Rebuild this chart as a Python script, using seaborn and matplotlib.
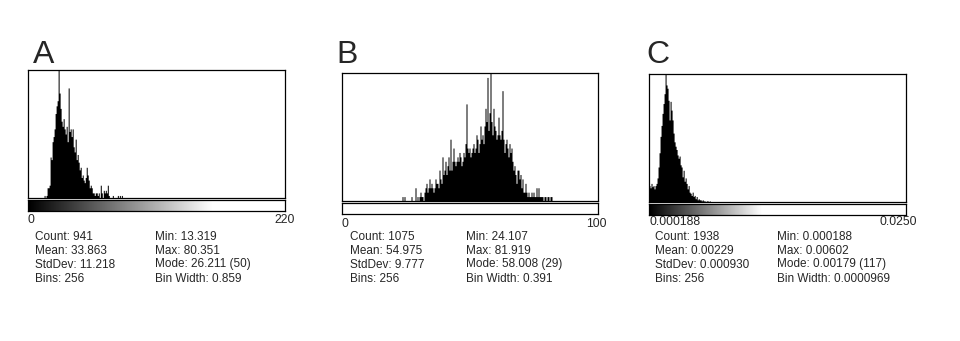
import numpy as np
import seaborn as sns
import matplotlib.pyplot as plt

sns.set_style("white")
plt.rcParams['font.family'] = ['Liberation Sans', 'DejaVu Sans']

W, H = 960, 341

# panel letters, histogram display ranges and the labels under the LUT bar
panels = ['A', 'B', 'C']
ranges = [(0, 220), (0, 100), (0.000188, 0.0250)]
range_labels = [('0', '220'), ('0', '100'), ('0.000188', '0.0250')]
first_bin = [16, 60, 0]   # index of first listed bin (256 bins per histogram)

# bin counts
counts_a = [1, 0, 1, 4, 4, 5, 16, 15, 22, 24, 27, 33, 36, 38, 50, 41, 35, 30, 28, 31,
            27, 25, 28, 22, 43, 26, 27, 24, 27, 20, 18, 23, 15, 17, 14, 11, 12, 8, 9, 7,
            6, 8, 12, 9, 7, 4, 5, 4, 2, 2, 1, 2, 2, 1, 2, 0, 5, 2, 0, 3,
            2, 3, 2, 5, 1, 0, 0, 0, 1, 0, 0, 0, 0, 1, 0, 1, 0, 1]
counts_b = [1, 0, 1, 0, 0, 0, 0, 0, 0, 1, 0, 0, 0, 3, 0, 1, 0, 1, 2, 1,
            1, 0, 2, 3, 4, 2, 3, 5, 3, 4, 3, 2, 3, 5, 4, 4, 3, 7, 5, 4,
            10, 6, 7, 9, 6, 8, 10, 7, 14, 7, 9, 12, 9, 8, 9, 10, 9, 11, 10, 8,
            9, 11, 10, 13, 22, 12, 11, 12, 10, 11, 12, 13, 11, 12, 15, 14, 11, 13, 17, 14,
            15, 13, 17, 21, 18, 28, 16, 20, 29, 18, 15, 21, 17, 16, 14, 15, 19, 15, 14, 16,
            25, 14, 11, 13, 14, 12, 10, 13, 11, 12, 9, 7, 8, 6, 4, 7, 7, 5, 6, 3,
            5, 2, 2, 4, 2, 1, 2, 1, 1, 2, 1, 2, 1, 1, 3, 1, 3, 1, 1, 1,
            1, 0, 1, 1, 0, 1, 1, 0, 1, 1]
counts_c = [15, 13, 17, 14, 15, 12, 15, 17, 22, 32, 45, 60, 70, 81, 90, 99, 117, 107, 104, 93,
            75, 92, 84, 75, 63, 55, 51, 48, 43, 40, 42, 34, 32, 23, 29, 19, 22, 17, 12, 15,
            9, 8, 6, 9, 5, 6, 3, 5, 2, 3, 2, 2, 1, 2, 1, 1, 0, 1, 1, 0, 1]
all_counts = [counts_a, counts_b, counts_c]

# LUT: fraction of the bar where the ramp reaches white (0 = all white)
lut_white = [0.72, 0.0, 0.44]

stats_left = [
    ['Count: 941', 'Mean: 33.863', 'StdDev: 11.218', 'Bins: 256'],
    ['Count: 1075', 'Mean: 54.975', 'StdDev: 9.777', 'Bins: 256'],
    ['Count: 1938', 'Mean: 0.00229', 'StdDev: 0.000930', 'Bins: 256'],
]
stats_right = [
    ['Min: 13.319', 'Max: 80.351', 'Mode: 26.211 (50)', 'Bin Width: 0.859'],
    ['Min: 24.107', 'Max: 81.919', 'Mode: 58.008 (29)', 'Bin Width: 0.391'],
    ['Min: 0.000188', 'Max: 0.00602', 'Mode: 0.00179 (117)', 'Bin Width: 0.0000969'],
]

# pixel layout of each panel
layout = [
    dict(box=(28, 70, 285, 198), bar=(28, 200, 285, 211), lab_y=220, lab_l=27, lab_r=295,
         letter=(33, 63), col1=35, col2=155),
    dict(box=(342, 73, 598, 201), bar=(342, 203, 598, 214), lab_y=224, lab_l=341, lab_r=607,
         letter=(336, 63), col1=350, col2=466),
    dict(box=(649, 74, 906, 202), bar=(649, 204, 906, 215), lab_y=222, lab_l=649, lab_r=917,
         letter=(646, 63), col1=655, col2=777),
]
line_y = [237, 251, 264.5, 278.5]


def rect(x0, y0, x1, y1):
    return [x0 / W, 1 - y1 / H, (x1 - x0) / W, (y1 - y0) / H]


fig = plt.figure(figsize=(W / 100, H / 100), dpi=100)
fig.patch.set_facecolor('white')

for i in range(3):
    lay = layout[i]
    counts = all_counts[i]
    lo, hi = ranges[i]
    bw = (hi - lo) / 256
    centers = lo + (first_bin[i] + np.arange(len(counts)) + 0.5) * bw

    ax = fig.add_axes(rect(*lay['box']))
    sns.histplot(x=centers, weights=counts, bins=256, binrange=(lo, hi),
                 element='step', fill=True, color='black', alpha=1, linewidth=0,
                 antialiased=False, ax=ax)
    ax.set_xlim(lo, hi)
    ax.set_ylim(0, max(counts))
    ax.set(xticks=[], yticks=[], xlabel='', ylabel='')
    for s in ax.spines.values():
        s.set_color('black')
        s.set_linewidth(0.9)

    # LUT bar
    bax = fig.add_axes(rect(*lay['bar']))
    ramp = np.linspace(0, 1, 256)
    if lut_white[i] > 0:
        ramp = np.clip(ramp / lut_white[i], 0, 1)
    else:
        ramp = np.ones(256)
    bax.imshow(ramp[np.newaxis, :], aspect='auto', cmap='gray', vmin=0, vmax=1,
               extent=(0, 1, 0, 1), interpolation='bilinear')
    bax.set(xticks=[], yticks=[])
    for s in bax.spines.values():
        s.set_color('black')
        s.set_linewidth(0.9)

    fig.text(lay['lab_l'] / W, 1 - lay['lab_y'] / H, range_labels[i][0],
             ha='left', va='center', fontsize=8.8)
    fig.text(lay['lab_r'] / W, 1 - lay['lab_y'] / H, range_labels[i][1],
             ha='right', va='center', fontsize=8.8)

    fig.text(lay['letter'][0] / W, 1 - lay['letter'][1] / H, panels[i],
             ha='left', va='baseline', fontsize=23)

    for k in range(4):
        fig.text(lay['col1'] / W, 1 - line_y[k] / H, stats_left[i][k],
                 ha='left', va='center', fontsize=8.5)
        fig.text(lay['col2'] / W, 1 - line_y[k] / H, stats_right[i][k],
                 ha='left', va='center', fontsize=8.5)

fig.savefig('out.png', dpi=100)
